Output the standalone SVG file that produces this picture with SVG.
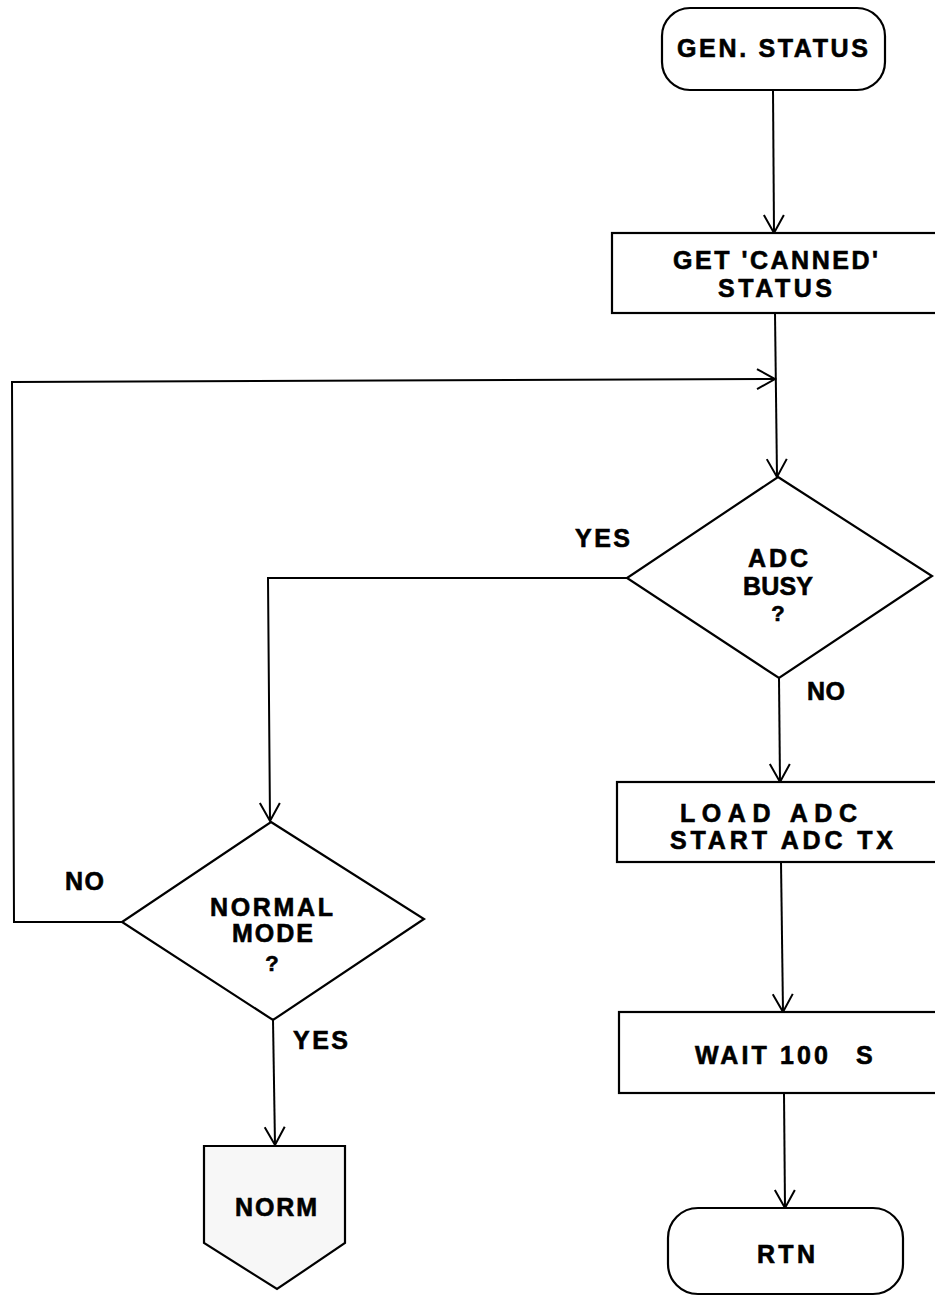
<svg xmlns="http://www.w3.org/2000/svg" width="935" height="1296" viewBox="0 0 935 1296">
<style>
.n{fill:#fff;stroke:#000;stroke-width:2.2}
.t{font-family:"Liberation Sans",Arial,sans-serif;font-weight:bold;font-size:25px;fill:#000;stroke:#000;stroke-width:0.6}
.q{font-size:22px}
.c{fill:none;stroke:#000;stroke-width:2}
</style>
<defs>
<marker id="ar" markerUnits="userSpaceOnUse" markerWidth="30" markerHeight="30" refX="0" refY="0" orient="auto" overflow="visible">
<path d="M-18,-10 L0,0 L-18,10" fill="none" stroke="#000" stroke-width="2"/>
</marker>
</defs>
<rect width="935" height="1296" fill="#fff"/>
<g id="connectors">
<path class="c" d="M773,90 L774,233" marker-end="url(#ar)"/>
<path class="c" d="M775,313 L777,477" marker-end="url(#ar)"/>
<path class="c" d="M122,922 L14,922 L12,382 L775,379" marker-end="url(#ar)"/>
<path class="c" d="M627,578 L268,578 L270,821" marker-end="url(#ar)"/>
<path class="c" d="M779,678 L780,782" marker-end="url(#ar)"/>
<path class="c" d="M781,862 L783,1012" marker-end="url(#ar)"/>
<path class="c" d="M784,1093 L785,1208" marker-end="url(#ar)"/>
<path class="c" d="M273,1020 L275,1145" marker-end="url(#ar)"/>
</g>
<g id="gen_status">
<rect class="n" x="662" y="8" width="223" height="82" rx="28"/>
<text class="t" x="677" y="57" textLength="191" lengthAdjust="spacing">GEN. STATUS</text>
</g>
<g id="get_canned">
<rect class="n" x="612" y="233" width="330" height="80"/>
<text class="t" x="673" y="269" textLength="205" lengthAdjust="spacing">GET 'CANNED'</text>
<text class="t" x="718" y="297" textLength="114" lengthAdjust="spacing">STATUS</text>
</g>
<g id="adc_busy">
<polygon class="n" points="778,477 932,576 779,678 627,578"/>
<text class="t" x="748" y="567" textLength="60" lengthAdjust="spacing">ADC</text>
<text class="t" x="743" y="595" textLength="70" lengthAdjust="spacing">BUSY</text>
<text class="t q" x="778" y="621" text-anchor="middle">?</text>
</g>
<g id="load_adc">
<rect class="n" x="617" y="782" width="325" height="80"/>
<text class="t" x="680" y="822" textLength="177" lengthAdjust="spacing">LOAD ADC</text>
<text class="t" x="670" y="849" textLength="223" lengthAdjust="spacing">START ADC TX</text>
</g>
<g id="wait">
<rect class="n" x="619" y="1012" width="323" height="81"/>
<text class="t" x="695" y="1064" textLength="133" lengthAdjust="spacing">WAIT 100</text>
<text class="t" x="856" y="1064">S</text>
</g>
<g id="rtn">
<rect class="n" x="668" y="1208" width="235" height="86" rx="30"/>
<text class="t" x="757" y="1263" textLength="58" lengthAdjust="spacing">RTN</text>
</g>
<g id="normal_mode">
<polygon class="n" points="271,822 424,919 273,1020 122,922"/>
<text class="t" x="210" y="916" textLength="123" lengthAdjust="spacing">NORMAL</text>
<text class="t" x="232" y="942" textLength="81" lengthAdjust="spacing">MODE</text>
<text class="t q" x="272" y="971" text-anchor="middle">?</text>
</g>
<g id="norm">
<polygon class="n" points="204,1146 345,1146 345,1243 277,1289 204,1243" style="fill:#f7f7f7"/>
<text class="t" x="235" y="1216" textLength="82" lengthAdjust="spacing">NORM</text>
</g>
<g id="labels">
<text class="t" x="575" y="547" textLength="55" lengthAdjust="spacing">YES</text>
<text class="t" x="807" y="700" textLength="38" lengthAdjust="spacing">NO</text>
<text class="t" x="65" y="890" textLength="39" lengthAdjust="spacing">NO</text>
<text class="t" x="293" y="1049" textLength="55" lengthAdjust="spacing">YES</text>
</g>
</svg>
